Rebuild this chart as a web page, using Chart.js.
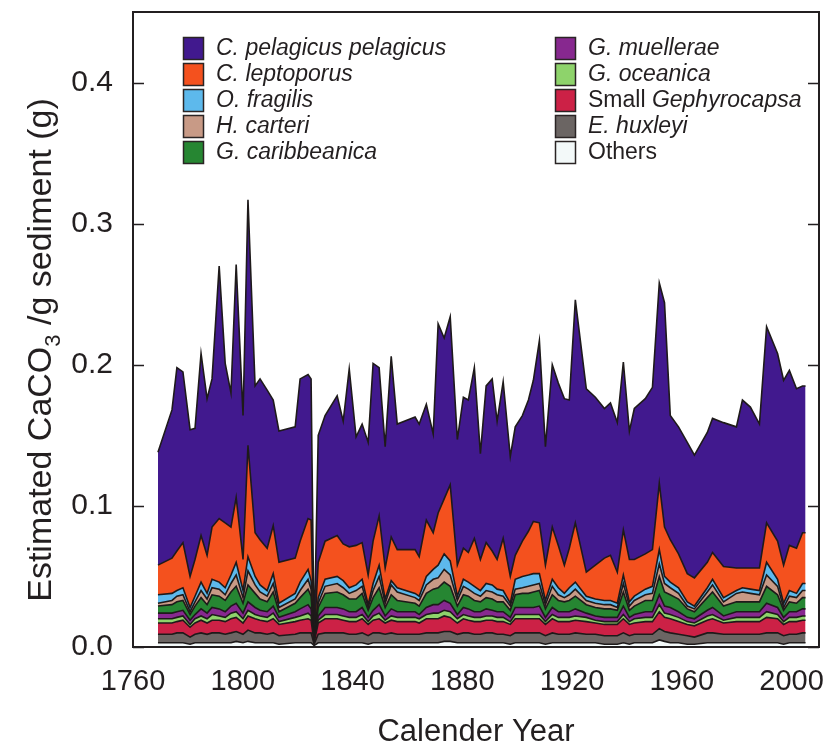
<!DOCTYPE html>
<html>
<head>
<meta charset="utf-8">
<script src="https://cdn.jsdelivr.net/npm/chart.js@4.4.0/dist/chart.umd.min.js"></script>
<style>
  html, body { margin: 0; padding: 0; background: #ffffff; }
  #wrap { width: 831px; height: 751px; }
</style>
</head>
<body>
<div id="wrap"><canvas id="myChart" width="831" height="751"></canvas></div>
<script>
// sample years (irregular sediment layers)
var years = [1769.1,1774.2,1776.0,1778.2,1780.8,1782.6,1784.8,1787.0,1788.8,1791.4,
             1793.6,1795.7,1797.6,1800.1,1801.9,1804.5,1806.3,1808.9,1811.1,1813.2,
             1819.1,1820.9,1823.8,1824.9,1826.0,1827.5,1830.0,1834.4,1836.6,1838.8,
             1841.3,1843.5,1845.7,1847.5,1849.7,1851.9,1854.1,1856.3,1862.8,1864.3,
             1866.9,1869.4,1871.2,1873.4,1875.6,1878.2,1880.4,1882.2,1884.4,1886.6,
             1888.7,1890.9,1892.7,1894.9,1897.5,1899.3,1901.9,1904.1,1905.9,1908.1,
             1910.3,1912.8,1915.0,1917.2,1919.0,1921.2,1925.2,1928.5,1931.8,1934.0,
             1936.5,1938.7,1940.9,1942.7,1946.7,1949.3,1951.8,1953.7,1955.8,1958.8,
             1962.0,1964.6,1969.3,1971.2,1975.2,1979.9,1982.1,1985.0,1988.3,1990.9,
             1994.9,1997.1,1999.2,2001.8,2004.0,2005.1];

// g CaCO3 / g sediment per species
var pelagicus = [.080,.105,.130,.121,.104,.093,.129,.111,.105,.179,
                 .113,.095,.165,.102,.174,.104,.114,.112,.089,.093,
                 .093,.115,.102,.100,.001,.090,.089,.099,.087,.126,
                 .077,.084,.094,.126,.105,.086,.128,.089,.094,.094,
                 .082,.070,.134,.114,.119,.089,.107,.108,.121,.075,
                 .111,.122,.098,.111,.085,.091,.089,.093,.100,.129,
                 .084,.115,.115,.118,.105,.158,.130,.119,.106,.108,
                 .106,.119,.091,.107,.110,.115,.142,.159,.088,.090,
                 .093,.087,.092,.095,.102,.100,.119,.114,.102,.139,
                 .133,.131,.124,.113,.104,.104];
var leptoporus = [.021,.025,.028,.032,.022,.026,.033,.027,.037,.045,
                  .046,.034,.046,.022,.079,.031,.032,.030,.034,.029,
                  .025,.029,.036,.043,0,.025,.027,.029,.026,.029,
                  .028,.026,.021,.030,.035,.022,.031,.027,.031,.028,
                  .040,.026,.037,.039,.054,.022,.022,.021,.034,.022,
                  .029,.024,.021,.037,.019,.017,.025,.031,.037,.036,
                  .025,.037,.030,.020,.028,.042,.017,.024,.030,.032,
                  .022,.032,.030,.026,.025,.026,.047,.035,.030,.024,
                  .020,.020,.018,.019,.022,.016,.014,.015,.016,.028,
                  .027,.027,.032,.032,.036,.036];
var fragilis = [.006,.005,.004,.005,.003,.004,.006,.004,.006,.005,
                .005,.006,.009,.005,.010,.006,.005,.004,.007,.003,
                .004,.006,.007,.006,0,.004,.005,.005,.005,.004,
                .004,.005,.002,.005,.008,.003,.003,.003,.003,.003,
                .006,.007,.009,.011,.010,.003,.005,.005,.005,.004,
                .005,.005,.004,.004,.002,.007,.008,.008,.008,.007,
                .003,.005,.005,.003,.005,.005,.003,.003,.003,.003,
                .003,.006,.003,.003,.004,.005,.010,.005,.004,.004,
                .003,.002,.003,.004,.003,.002,.003,.003,.003,.009,
                .005,.003,.004,.003,.005,.005];
var carteri = [.002,.003,.004,.004,.002,.003,.005,.004,.005,.005,
               .004,.006,.008,.004,.010,.006,.005,.004,.006,.003,
               .003,.005,.007,.005,0,.003,.005,.006,.005,.004,
               .006,.005,.002,.005,.008,.003,.007,.006,.004,.004,
               .006,.007,.007,.009,.008,.004,.006,.005,.005,.004,
               .005,.005,.005,.004,.003,.004,.004,.005,.005,.005,
               .003,.006,.004,.003,.004,.005,.003,.003,.003,.003,
               .002,.006,.003,.004,.004,.005,.009,.006,.005,.004,
               .002,.002,.004,.005,.003,.006,.007,.006,.005,.008,
               .006,.002,.004,.004,.005,.005];
var caribbeanica = [.005,.006,.007,.007,.004,.006,.008,.006,.009,.009,
                    .008,.010,.012,.007,.012,.010,.008,.007,.010,.004,
                    .006,.008,.011,.009,0,.006,.010,.011,.010,.009,
                    .009,.010,.005,.009,.012,.006,.010,.008,.006,.006,
                    .010,.011,.012,.013,.012,.006,.009,.009,.008,.007,
                    .008,.008,.007,.007,.005,.009,.010,.010,.011,.011,
                    .006,.009,.008,.007,.008,.009,.006,.006,.006,.006,
                    .005,.010,.005,.006,.008,.008,.013,.010,.009,.009,
                    .006,.005,.009,.011,.007,.007,.007,.007,.007,.012,
                    .009,.005,.007,.006,.008,.008];
var muellerae = [.004,.004,.004,.004,.003,.003,.005,.004,.005,.005,
                 .004,.005,.006,.004,.006,.005,.004,.004,.005,.003,
                 .004,.005,.006,.005,0,.003,.005,.005,.005,.004,
                 .004,.005,.003,.004,.006,.003,.005,.004,.004,.003,
                 .005,.006,.006,.007,.006,.003,.005,.005,.004,.004,
                 .005,.004,.004,.004,.003,.005,.005,.005,.005,.006,
                 .003,.005,.004,.004,.004,.005,.003,.003,.003,.003,
                 .003,.006,.003,.003,.004,.004,.007,.005,.005,.004,
                 .003,.003,.004,.005,.003,.004,.004,.004,.004,.006,
                 .005,.003,.004,.004,.005,.005];
var oceanica = [.003,.003,.003,.003,.002,.003,.003,.003,.004,.003,
                .003,.004,.004,.003,.004,.003,.003,.003,.004,.002,
                .003,.003,.004,.003,0,.002,.003,.003,.003,.003,
                .003,.003,.002,.003,.004,.002,.003,.003,.003,.003,
                .003,.004,.004,.004,.004,.003,.003,.003,.003,.003,
                .003,.003,.003,.003,.002,.003,.003,.003,.003,.003,
                .002,.003,.003,.003,.003,.003,.003,.002,.002,.002,
                .002,.003,.002,.003,.003,.003,.005,.003,.003,.003,
                .002,.002,.003,.003,.002,.003,.003,.003,.003,.004,
                .003,.002,.003,.003,.003,.003];
var smallGeph = [.008,.008,.008,.009,.007,.008,.009,.008,.009,.009,
                 .009,.010,.010,.008,.010,.010,.009,.009,.010,.008,
                 .009,.009,.010,.009,.001,.008,.010,.010,.009,.009,
                 .009,.010,.008,.009,.010,.008,.009,.009,.009,.008,
                 .010,.010,.010,.011,.010,.008,.010,.009,.009,.009,
                 .009,.009,.009,.009,.008,.010,.010,.010,.010,.010,
                 .008,.010,.009,.009,.009,.009,.009,.008,.008,.008,
                 .008,.010,.008,.008,.009,.009,.012,.010,.010,.009,
                 .008,.008,.009,.010,.008,.009,.009,.009,.009,.011,
                 .010,.008,.009,.009,.009,.009];
var huxleyi = [.006,.006,.007,.007,.005,.006,.007,.006,.007,.007,
               .006,.007,.007,.006,.008,.007,.007,.006,.007,.006,
               .006,.007,.007,.007,.001,.006,.007,.007,.007,.006,
               .006,.007,.006,.007,.007,.006,.007,.006,.006,.006,
               .007,.007,.007,.007,.007,.006,.007,.007,.006,.006,
               .007,.007,.006,.006,.006,.007,.007,.007,.007,.007,
               .006,.007,.006,.006,.006,.007,.006,.006,.006,.006,
               .006,.007,.006,.006,.006,.006,.008,.007,.007,.006,
               .006,.005,.007,.007,.006,.006,.006,.006,.006,.007,
               .007,.006,.006,.006,.007,.007];
var others = [.003,.003,.003,.003,.002,.003,.003,.003,.003,.003,
              .003,.003,.004,.003,.004,.003,.003,.003,.003,.002,
              .003,.003,.003,.003,.001,.003,.003,.003,.003,.003,
              .003,.003,.002,.003,.003,.003,.003,.003,.003,.003,
              .003,.003,.003,.004,.004,.003,.003,.003,.003,.003,
              .003,.003,.003,.003,.002,.003,.003,.003,.003,.003,
              .002,.003,.003,.003,.003,.003,.003,.003,.002,.002,
              .002,.003,.002,.003,.003,.003,.005,.004,.003,.003,
              .002,.002,.003,.003,.003,.003,.003,.003,.003,.003,
              .003,.002,.003,.003,.003,.003];

var xTicks = [1760, 1800, 1840, 1880, 1920, 1960, 2000];
var yTicks = [0, 0.1, 0.2, 0.3, 0.4];

// bottom of the stack first
var layers = [
  ['Others', others, '#f3f9f9'],
  ['E. huxleyi', huxleyi, '#6b6563'],
  ['Small Gephyrocapsa', smallGeph, '#cc2146'],
  ['G. oceanica', oceanica, '#8ed36b'],
  ['G. muellerae', muellerae, '#87288f'],
  ['G. caribbeanica', caribbeanica, '#268632'],
  ['H. carteri', carteri, '#c89a86'],
  ['O. fragilis', fragilis, '#5db9ec'],
  ['C. leptoporus', leptoporus, '#f4511e'],
  ['C. pelagicus pelagicus', pelagicus, '#41198e']
];

var FONT = '"Liberation Sans", Arial, Helvetica, sans-serif';
var INK = '#231f20';

var datasets = layers.map(function (l, i) {
  return {
    label: l[0],
    data: years.map(function (yr, j) { return { x: yr, y: l[1][j] }; }),
    backgroundColor: l[2],
    borderColor: '#1e1a1a',
    borderWidth: 1.6,
    fill: i === 0 ? 'origin' : '-1',
    pointRadius: 0,
    tension: 0
  };
});

// frame, inward ticks, y title, two-column legend
var decor = {
  id: 'decor',
  afterDraw: function (chart) {
    var ctx = chart.ctx, a = chart.chartArea, y = chart.scales.y;
    ctx.save();
    ctx.strokeStyle = INK;
    ctx.lineWidth = 2;
    ctx.strokeRect(a.left, a.top, a.right - a.left, a.bottom - a.top);
    yTicks.forEach(function (v) {
      var py = Math.round(y.getPixelForValue(v)) + 0.5;
      ctx.beginPath();
      ctx.moveTo(a.left, py); ctx.lineTo(a.left + 11, py);
      ctx.moveTo(a.right, py); ctx.lineTo(a.right - 11, py);
      ctx.lineWidth = 1.5;
      ctx.stroke();
    });

    // y axis title with subscript
    ctx.fillStyle = INK;
    ctx.translate(42, 350);
    ctx.rotate(-Math.PI / 2);
    ctx.textBaseline = 'middle';
    var big = '34px ' + FONT, small = '22px ' + FONT;
    var p1 = 'Estimated CaCO', p2 = '3', p3 = ' /g sediment (g)';
    ctx.font = big; var w1 = ctx.measureText(p1).width, w3 = ctx.measureText(p3).width;
    ctx.font = small; var w2 = ctx.measureText(p2).width;
    var x0 = -(w1 + w2 + w3) / 2;
    ctx.font = big; ctx.fillText(p1, x0, 0);
    ctx.font = small; ctx.fillText(p2, x0 + w1, 12);
    ctx.font = big; ctx.fillText(p3, x0 + w1 + w2, 0);
    ctx.restore();

    // legend
    ctx.save();
    ctx.textBaseline = 'middle';
    var order = layers.slice().reverse();
    order.forEach(function (l, i) {
      var col = i < 5 ? 0 : 1, row = i % 5;
      var bx = col === 0 ? 183 : 555, by = 37 + row * 26;
      ctx.fillStyle = l[2];
      ctx.fillRect(bx, by, 21, 23);
      ctx.strokeStyle = '#2a2424';
      ctx.lineWidth = 1.5;
      ctx.strokeRect(bx + 0.5, by + 0.5, 20, 22);
      ctx.fillStyle = INK;
      var tx = bx + 33, ty = by + 12;
      var name = l[0];
      if (name === 'Others') {
        ctx.font = '23px ' + FONT; ctx.fillText(name, tx, ty);
      } else if (name.indexOf('Small ') === 0) {
        ctx.font = '23px ' + FONT; ctx.fillText('Small ', tx, ty);
        var ws = ctx.measureText('Small ').width;
        ctx.font = 'italic 23px ' + FONT; ctx.fillText(name.slice(6), tx + ws, ty);
      } else {
        ctx.font = 'italic 23px ' + FONT; ctx.fillText(name, tx, ty);
      }
    });
    ctx.restore();
  }
};

var chart = new Chart(document.getElementById('myChart'), {
  type: 'line',
  data: { datasets: datasets },
  options: {
    responsive: false,
    animation: false,
    devicePixelRatio: 1,
    layout: { padding: { top: 12, right: 12, left: 0, bottom: 0 } },
    plugins: { legend: { display: false }, tooltip: { enabled: false } },
    scales: {
      x: {
        type: 'linear', min: 1760, max: 2010,
        grid: { display: false }, border: { display: false },
        ticks: {
          stepSize: 40, includeBounds: false, autoSkip: false, maxRotation: 0, padding: 10,
          color: INK, font: { size: 29, family: FONT },
          callback: function (v) { return xTicks.indexOf(v) >= 0 ? String(v) : ''; }
        },
        title: { display: true, text: 'Calender Year', color: INK, font: { size: 31, family: FONT }, padding: { top: 0, bottom: 0 } },
        afterFit: function (s) { s.height = 104; s.paddingLeft = 0; s.paddingRight = 0; }
      },
      y: {
        stacked: true, min: 0, max: 0.45,
        grid: { display: false }, border: { display: false },
        ticks: {
          stepSize: 0.1, includeBounds: false, padding: 12,
          color: INK, font: { size: 30, family: FONT },
          callback: function (v) { return v.toFixed(1); }
        },
        afterFit: function (s) { s.width = 133; s.paddingTop = 0; s.paddingBottom = 0; }
      }
    }
  },
  plugins: [decor]
});
</script>
</body>
</html>
